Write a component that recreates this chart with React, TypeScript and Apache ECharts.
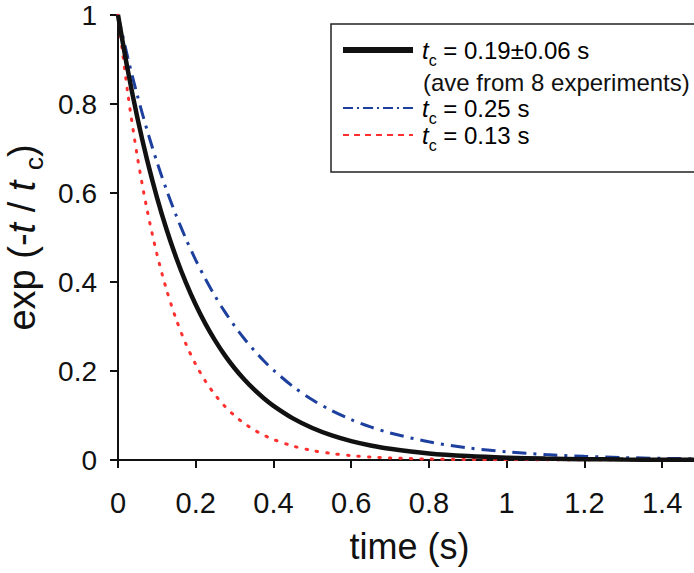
import React, { useEffect, useRef } from "react";
import * as echarts from "echarts";

// time samples (s)
const times = [
  0, 0.025, 0.05, 0.075, 0.1, 0.125, 0.15, 0.175, 0.2, 0.225, 0.25, 0.275, 0.3,
  0.325, 0.35, 0.375, 0.4, 0.45, 0.5, 0.55, 0.6, 0.65, 0.7, 0.8, 0.9, 1.0, 1.1,
  1.2, 1.3, 1.4, 1.5,
];
// t_c = 0.19 s (average)
const aveValues = [
  1, 0.8767, 0.7686, 0.6738, 0.5908, 0.5179, 0.4541, 0.3981, 0.349, 0.306,
  0.2683, 0.2352, 0.2062, 0.1808, 0.1585, 0.1389, 0.1218, 0.0936, 0.072, 0.0553,
  0.0425, 0.0327, 0.0251, 0.0148, 0.0088, 0.0052, 0.0031, 0.0018, 0.0011,
  0.0006, 0.0004,
];
// t_c = 0.25 s
const slowValues = [
  1, 0.9048, 0.8187, 0.7408, 0.6703, 0.6065, 0.5488, 0.4966, 0.4493, 0.4066,
  0.3679, 0.3329, 0.3012, 0.2725, 0.2466, 0.2231, 0.2019, 0.1653, 0.1353,
  0.1108, 0.0907, 0.0743, 0.0608, 0.0408, 0.0273, 0.0183, 0.0123, 0.0082,
  0.0055, 0.0037, 0.0025,
];
// t_c = 0.13 s
const fastValues = [
  1, 0.8251, 0.6807, 0.5616, 0.4634, 0.3823, 0.3154, 0.2602, 0.2147, 0.1771,
  0.1462, 0.1206, 0.0995, 0.0821, 0.0677, 0.0559, 0.0461, 0.0314, 0.0214,
  0.0145, 0.0099, 0.0067, 0.0046, 0.0021, 0.001, 0.0005, 0.0002, 0.0001,
  0.00005, 0.00002, 0.00001,
];

const xTicks = { min: 0, max: 1.5, interval: 0.2 };
const yTicks = { min: 0, max: 1, interval: 0.2 };

const legendLabels = [
  { t: "t", c: "c", rest: " = 0.19\u00b10.06 s" },
  { t: "t", c: "c", rest: " = 0.25 s" },
  { t: "t", c: "c", rest: " = 0.13 s" },
];
const legendNote = "(ave from 8 experiments)";

const FONT = "'Liberation Sans', Arial, Helvetica, sans-serif";
const BLACK = "#111111";
const BLUE = "#1d3f9e";
const RED = "#ff3030";

const pair = (vals: number[]) => times.map((t, i) => [t, vals[i]]);

export default function App() {
  const ref = useRef<HTMLDivElement>(null);
  useEffect(() => {
    if (!ref.current) return;
    const chart = echarts.init(ref.current, null, { renderer: "svg" });

    const legRich = {
      i: { fontFamily: FONT, fontSize: 24, fontStyle: "italic", color: BLACK, lineHeight: 36 },
      s: { fontFamily: FONT, fontSize: 16, color: BLACK, lineHeight: 18, verticalAlign: "bottom" },
      n: { fontFamily: FONT, fontSize: 24, color: BLACK, lineHeight: 36 },
    };
    const legText = (k: number, y: number) => ({
      type: "text",
      x: 422,
      y,
      z: 10,
      style: {
        text: `{i|${legendLabels[k].t}}{s|${legendLabels[k].c}}{n|${legendLabels[k].rest}}`,
        rich: legRich,
        verticalAlign: "middle",
        align: "left",
      },
    });

    chart.setOption({
      animation: false,
      backgroundColor: "#ffffff",
      grid: {
        left: 118,
        top: 15,
        right: -7,
        bottom: 113,
        containLabel: false,
        outerBoundsMode: "none",
      },
      xAxis: {
        type: "value",
        min: xTicks.min,
        max: xTicks.max,
        interval: xTicks.interval,
        name: "time (s)",
        nameLocation: "middle",
        nameGap: 68,
        nameTextStyle: { fontFamily: FONT, fontSize: 36, color: BLACK },
        axisLine: { show: true, onZero: false, lineStyle: { color: BLACK, width: 2 } },
        axisTick: { show: true, length: 8, lineStyle: { color: BLACK, width: 2 } },
        axisLabel: {
          fontFamily: FONT,
          fontSize: 29,
          color: BLACK,
          margin: 28,
          formatter: (v: number) => (v > 1.45 ? "" : String(Math.round(v * 10) / 10)),
        },
        splitLine: { show: false },
      },
      yAxis: {
        type: "value",
        min: yTicks.min,
        max: yTicks.max,
        interval: yTicks.interval,
        name: "exp (-{i|t} / {i|t} {s|c})",
        nameLocation: "middle",
        nameRotate: 90,
        nameGap: 70,
        nameTextStyle: {
          fontFamily: FONT,
          fontSize: 38,
          color: BLACK,
          lineHeight: 50,
          rich: {
            i: { fontFamily: FONT, fontSize: 38, fontStyle: "italic", color: BLACK, lineHeight: 50 },
            s: { fontFamily: FONT, fontSize: 26, color: BLACK, lineHeight: 26, verticalAlign: "bottom" },
          },
        },
        axisLine: { show: true, lineStyle: { color: BLACK, width: 2 } },
        axisTick: { show: true, length: 8, lineStyle: { color: BLACK, width: 2 } },
        axisLabel: {
          fontFamily: FONT,
          fontSize: 28,
          lineHeight: 24,
          color: BLACK,
          margin: 21,
          formatter: (v: number) => String(Math.round(v * 10) / 10),
        },
        splitLine: { show: false },
      },
      series: [
        {
          type: "line",
          name: "tc = 0.13 s",
          data: pair(fastValues),
          smooth: 0.3,
          showSymbol: false,
          symbol: "none",
          lineStyle: { color: RED, width: 3, type: [1.5, 9], cap: "round" },
          z: 2,
        },
        {
          type: "line",
          name: "tc = 0.25 s",
          data: pair(slowValues),
          smooth: 0.3,
          showSymbol: false,
          symbol: "none",
          lineStyle: { color: BLUE, width: 3, type: [14, 7, 3, 7] },
          z: 3,
        },
        {
          type: "line",
          name: "tc = 0.19 s",
          data: pair(aveValues),
          smooth: 0.3,
          showSymbol: false,
          symbol: "none",
          lineStyle: { color: BLACK, width: 4.5 },
          z: 4,
        },
      ],
      graphic: [
        {
          type: "rect",
          z: 9,
          shape: { x: 331, y: 24, width: 420, height: 148 },
          style: { fill: "#ffffff", stroke: "#222222", lineWidth: 1.5 },
        },
        {
          type: "line",
          z: 10,
          shape: { x1: 343, y1: 50, x2: 413, y2: 50 },
          style: { stroke: BLACK, lineWidth: 6 },
        },
        legText(0, 50),
        {
          type: "text",
          x: 423,
          y: 82,
          z: 10,
          style: {
            text: legendNote,
            fontFamily: FONT,
            fontSize: 24,
            fill: BLACK,
            verticalAlign: "middle",
            align: "left",
          },
        },
        {
          type: "line",
          z: 10,
          shape: { x1: 343, y1: 108, x2: 413, y2: 108 },
          style: { stroke: BLUE, lineWidth: 2, lineDash: [10, 4, 2, 4] },
        },
        legText(1, 108),
        {
          type: "line",
          z: 10,
          shape: { x1: 343, y1: 135, x2: 413, y2: 135 },
          style: { stroke: RED, lineWidth: 2, lineDash: [6, 5] },
        },
        legText(2, 135),
      ],
    });
    return () => chart.dispose();
  }, []);
  return (
    <div
      ref={ref}
      style={{ position: "fixed", left: 0, top: 0, width: 694, height: 573, background: "#fff" }}
    />
  );
}
